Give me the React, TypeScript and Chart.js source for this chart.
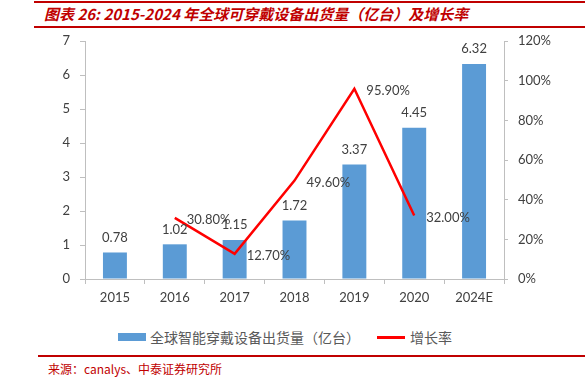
import React, { useEffect, useRef } from "react";
import { Chart, registerables } from "chart.js";

Chart.register(...registerables);

const categories = ["2015", "2016", "2017", "2018", "2019", "2020", "2024E"];
const shipments = [0.78, 1.02, 1.15, 1.72, 3.37, 4.45, 6.32];
const growth = [null, 30.8, 12.7, 49.6, 95.9, 32.0, null];
const shipmentLabels = ["0.78", "1.02", "1.15", "1.72", "3.37", "4.45", "6.32"];
const growthLabels = ["", "30.80%", "12.70%", "49.60%", "95.90%", "32.00%", ""];

const FONT = "Lato, 'Liberation Sans', sans-serif";

const labelPlugin = {
  id: "valueLabels",
  afterDatasetsDraw(chart: any) {
    const ctx = chart.ctx;
    ctx.save();
    ctx.font = `13px ${FONT}`;
    ctx.fillStyle = "#404040";
    const barMeta = chart.getDatasetMeta(0);
    ctx.textAlign = "center";
    ctx.textBaseline = "middle";
    barMeta.data.forEach((el: any, i: number) => {
      ctx.fillText(shipmentLabels[i], el.x, el.y - 15);
    });
    const lineMeta = chart.getDatasetMeta(1);
    ctx.textAlign = "left";
    lineMeta.data.forEach((el: any, i: number) => {
      if (growth[i] == null) return;
      ctx.fillText(growthLabels[i], el.x + 12, el.y + 2);
    });
    ctx.restore();
  },
};

export default function App() {
  const ref = useRef<HTMLCanvasElement>(null);
  useEffect(() => {
    if (!ref.current) return;
    const chart = new Chart(ref.current, {
      type: "bar",
      data: {
        labels: categories,
        datasets: [
          {
            type: "bar",
            label: "全球智能穿戴设备出货量（亿台）",
            data: shipments,
            backgroundColor: "#5B9BD5",
            yAxisID: "y",
            barPercentage: 0.4,
            categoryPercentage: 1,
            order: 2,
          },
          {
            type: "line",
            label: "增长率",
            data: growth as any,
            borderColor: "#FF0000",
            backgroundColor: "#FF0000",
            borderWidth: 2.5,
            pointRadius: 0,
            tension: 0,
            yAxisID: "y1",
            spanGaps: false,
            order: 1,
          },
        ],
      },
      options: {
        responsive: false,
        animation: false,
        layout: { padding: { top: 41, left: 0, right: 0, bottom: 0 } },
        plugins: { legend: { display: false }, tooltip: { enabled: false } },
        scales: {
          x: {
            grid: {
              offset: true,
              drawOnChartArea: false,
              tickLength: 5,
              color: "#BFBFBF",
            },
            border: { color: "#BFBFBF" },
            ticks: { color: "#404040", font: { family: FONT, size: 13 }, padding: 6 },
            afterFit(scale: any) {
              scale.height = 36;
            },
          },
          y: {
            position: "left",
            min: 0,
            max: 7,
            ticks: { stepSize: 1, color: "#404040", font: { family: FONT, size: 13 }, padding: 10 },
            grid: { drawOnChartArea: false, tickLength: 5, color: "#BFBFBF" },
            border: { color: "#BFBFBF" },
            afterFit(scale: any) {
              scale.width = 85;
            },
          },
          y1: {
            position: "right",
            min: 0,
            max: 120,
            ticks: {
              stepSize: 20,
              color: "#404040",
              font: { family: FONT, size: 13 },
              padding: 10,
              callback: (v: any) => `${v}%`,
            },
            grid: { drawOnChartArea: false, tickLength: 4, color: "#BFBFBF" },
            border: { color: "#BFBFBF" },
            afterFit(scale: any) {
              scale.width = 81;
            },
          },
        },
      },
      plugins: [labelPlugin],
    });
    return () => chart.destroy();
  }, []);

  return (
    <div
      style={{
        position: "fixed",
        left: 0,
        top: 0,
        width: 585,
        height: 377,
        background: "#fff",
        overflow: "hidden",
      }}
    >
      <div style={{ position: "absolute", left: 34, right: 0, top: 1, height: 2, background: "#C00000" }} />
      <div
        style={{
          position: "absolute",
          left: 44,
          top: 4,
          fontFamily: "'Noto Sans CJK SC', sans-serif",
          fontStyle: "italic",
          fontWeight: 700,
          fontSize: 15,
          color: "#C00000",
          whiteSpace: "nowrap",
          lineHeight: "20px",
        }}
      >
        图表 26: 2015-2024 年全球可穿戴设备出货量（亿台）及增长率
      </div>
      <div style={{ position: "absolute", left: 34, right: 0, top: 26, height: 2, background: "#C00000" }} />
      <canvas
        ref={ref}
        width={585}
        height={315}
        style={{ position: "absolute", left: 0, top: 0, width: 585, height: 315 }}
      />
      <div
        style={{
          position: "absolute",
          left: 118,
          top: 327,
          display: "flex",
          alignItems: "center",
          fontFamily: "'Noto Sans CJK SC', sans-serif",
          fontSize: 14,
          color: "#595959",
          whiteSpace: "nowrap",
          height: 20,
        }}
      >
        <span style={{ display: "inline-block", width: 28, height: 8, background: "#5B9BD5", marginRight: 4 }} />
        <span>全球智能穿戴设备出货量（亿台）</span>
        <span style={{ display: "inline-block", width: 28, height: 3, background: "#FF0000", marginLeft: 17, marginRight: 5 }} />
        <span>增长率</span>
      </div>
      <div style={{ position: "absolute", left: 38, right: 0, top: 355, height: 2, background: "#C00000" }} />
      <div
        style={{
          position: "absolute",
          left: 48,
          top: 362,
          fontFamily: "'Noto Sans CJK SC', sans-serif",
          fontSize: 12,
          color: "#C00000",
          whiteSpace: "nowrap",
          lineHeight: "14px",
        }}
      >
        来源：canalys、中泰证券研究所
      </div>
    </div>
  );
}
